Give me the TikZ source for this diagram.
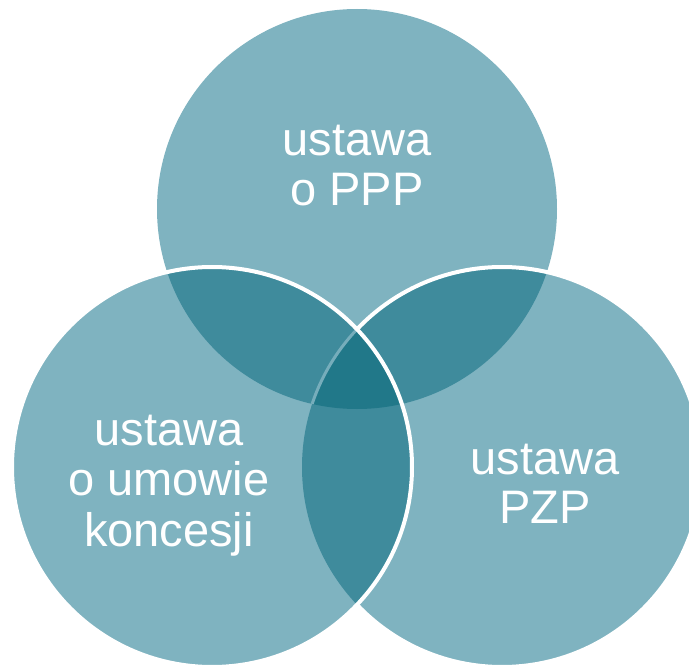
\documentclass[tikz,border=0pt]{standalone}
\usepackage{fontspec}
\setmainfont{Liberation Sans}
\definecolor{vlight}{HTML}{7FB3C0}
\definecolor{vmid}{HTML}{3F8B9C}
\definecolor{vdark}{HTML}{217889}
\definecolor{vline}{HTML}{76ADBB}
\begin{document}
\begin{tikzpicture}[x=1pt,y=-1pt,
  lbl/.style={text=white,font=\fontsize{47}{50}\selectfont,inner sep=0pt,anchor=base},
  rim/.style={white,line width=4pt}]
\useasboundingbox (0,0) rectangle (689,666);
\clip (0,0) rectangle (689,666);
\def\rr{200pt}
\coordinate (T) at (357,209);
\coordinate (L) at (212,467);
\coordinate (R) at (502,467);
% base fills
\fill[vlight] (T) circle[radius=\rr];
\fill[vlight] (L) circle[radius=\rr];
\fill[vlight] (R) circle[radius=\rr];
% pairwise overlaps
\begin{scope}
  \clip (T) circle[radius=\rr];
  \fill[vmid] (L) circle[radius=\rr];
  \fill[vmid] (R) circle[radius=\rr];
\end{scope}
\begin{scope}
  \clip (L) circle[radius=\rr];
  \fill[vmid] (R) circle[radius=\rr];
\end{scope}
% triple overlap
\begin{scope}
  \clip (T) circle[radius=\rr];
  \clip (L) circle[radius=\rr];
  \fill[vdark] (R) circle[radius=\rr];
\end{scope}
% right circle rim, outside the left circle
\begin{scope}[even odd rule]
  \clip (0,0) rectangle (689,666) (L) circle[radius=\rr];
  \draw[rim] (R) circle[radius=\rr];
\end{scope}
% faint rim of right circle inside top and left
\begin{scope}
  \clip (T) circle[radius=\rr];
  \clip (L) circle[radius=\rr];
  \draw[vline,line width=3pt] (R) circle[radius=\rr];
\end{scope}
% left circle rim
\draw[rim] (L) circle[radius=\rr];
% labels
\node[lbl] (t1) at (357,156) {ustawa};
\node[lbl] (t2) at (357,206) {o PPP};
\node[lbl] (l1) at (169,445) {ustawa};
\node[lbl] (l2) at (169,495) {o umowie};
\node[lbl] (l3) at (169,546) {koncesji};
\node[lbl] (r1) at (545,474) {ustawa};
\node[lbl] (r2) at (545,523) {PZP};
\end{tikzpicture}
\end{document}
